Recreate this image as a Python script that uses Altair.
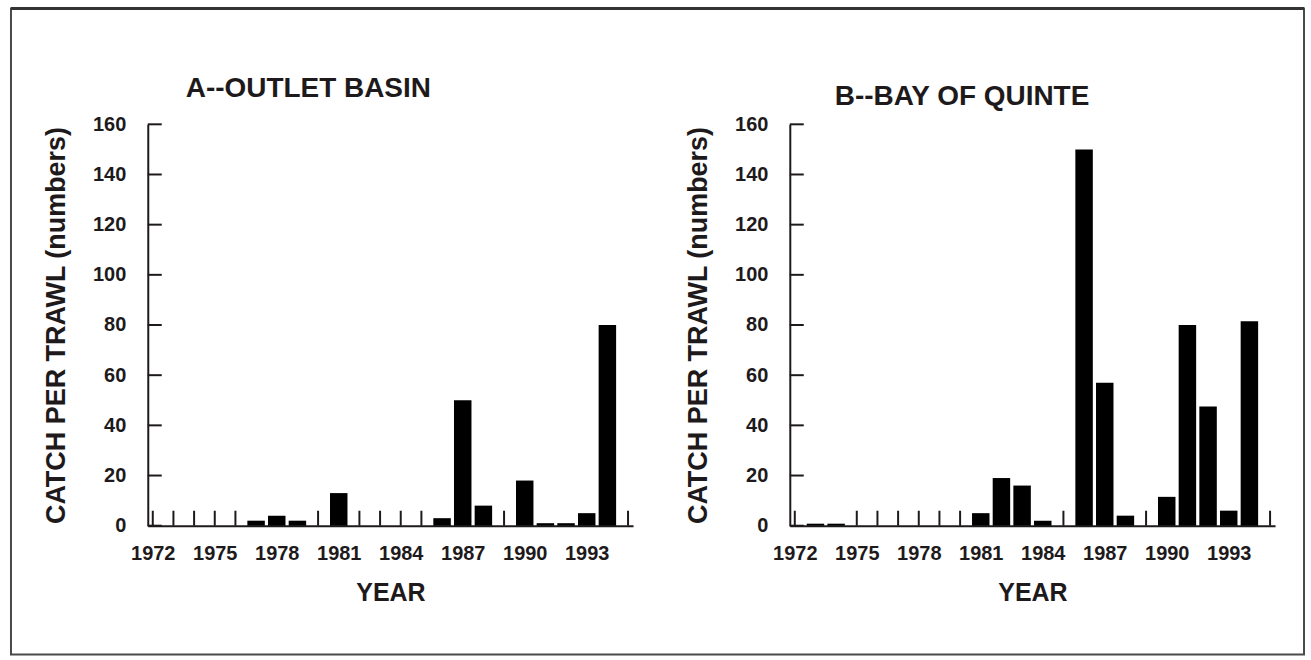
import altair as alt
import pandas as pd

# ---- data ----
years = list(range(1972, 1995))
outlet_basin = [0, 0, 0, 0, 0, 2, 4, 2, 0, 13, 0, 0, 0, 0, 3, 50, 8, 0, 18, 1, 1, 5, 80]
bay_of_quinte = [0, 0.8, 0.8, 0, 0, 0, 0, 0, 0, 5, 19, 16, 2, 0, 150, 57, 4, 0, 11.5, 80, 47.5, 6, 81.5]
year_labels = [1972, 1975, 1978, 1981, 1984, 1987, 1990, 1993]
year_domain = [1972, 1995]
y_ticks = [0, 20, 40, 60, 80, 100, 120, 140, 160]
panel_titles = ["A--OUTLET BASIN", "B--BAY OF QUINTE"]
x_title = "YEAR"
y_title = "CATCH PER TRAWL (numbers)"

FONT = "Liberation Sans"
INK = "#1e1a1c"
W, H = 486, 402


def panel(values, title, tx, ty, frame=False):
    df = pd.DataFrame({"year": years, "catch": values})
    tick_years = [yr for yr, v in zip(years, values) if v == 0] + [year_domain[1]]
    xt_df = pd.DataFrame({"year": tick_years})
    yt_df = pd.DataFrame({"catch": y_ticks})

    x_enc = alt.X(
        "year:Q",
        scale=alt.Scale(domain=year_domain, nice=False, zero=False),
        axis=alt.Axis(
            values=year_labels, format="d", ticks=False, grid=False,
            labelFont=FONT, labelFontSize=20, labelFontWeight="bold", labelColor=INK,
            labelPadding=18, labelFlush=False, labelOverlap=False,
            domainColor=INK, domainWidth=2,
            title=x_title, titleFont=FONT, titleFontSize=25, titleFontWeight="bold",
            titleColor=INK, titlePadding=17,
        ),
    )
    y_enc = alt.Y(
        "catch:Q",
        scale=alt.Scale(domain=[0, 160], nice=False),
        axis=alt.Axis(
            values=y_ticks, ticks=False, grid=False,
            labelFont=FONT, labelFontSize=20, labelFontWeight="bold", labelColor=INK,
            labelPadding=22, labelFlush=False, labelOverlap=False,
            domainColor=INK, domainWidth=2,
            title=y_title, titleFont=FONT, titleFontSize=27, titleFontWeight="bold",
            titleColor=INK, titlePadding=22,
        ),
    )

    xticks = alt.Chart(xt_df).mark_rule(color=INK, strokeWidth=2).encode(
        x=x_enc, y=alt.value(H), y2=alt.value(H - 15)
    )
    yticks = alt.Chart(yt_df).mark_rule(color=INK, strokeWidth=2).encode(
        y=y_enc, x=alt.value(0), x2=alt.value(14)
    )
    bars = alt.Chart(df).mark_bar(size=17.5, color="black").encode(x=x_enc, y=y_enc)
    head = alt.Chart(pd.DataFrame({"t": [title]})).mark_text(
        font=FONT, fontSize=28, fontWeight="bold", color=INK,
        align="left", baseline="alphabetic",
    ).encode(text="t:N", x=alt.value(tx), y=alt.value(ty))

    layers = [xticks, yticks, bars, head]
    if frame:
        one = pd.DataFrame({"f": [0]})
        box = alt.Chart(one).mark_rect(filled=False, color="#4a4a4a", strokeWidth=2).encode(
            x=alt.value(-137), x2=alt.value(1158), y=alt.value(-116), y2=alt.value(531)
        )
        top = alt.Chart(one).mark_rule(color="#333333", strokeWidth=3).encode(
            x=alt.value(-137), x2=alt.value(1158), y=alt.value(-116)
        )
        layers = [box, top] + layers

    return alt.layer(*layers).properties(width=W, height=H)


a = panel(outlet_basin, panel_titles[0], 38, -27, frame=True)
b = panel(bay_of_quinte, panel_titles[1], 45, -19)

chart = (
    alt.hconcat(a, b, spacing=157, bounds="flush")
    .properties(padding={"left": 9, "top": 6, "right": 5, "bottom": 4}, background="white")
    .configure_view(strokeWidth=0)
)

chart.save("out.html", embed_options={"renderer": "svg", "actions": False})
